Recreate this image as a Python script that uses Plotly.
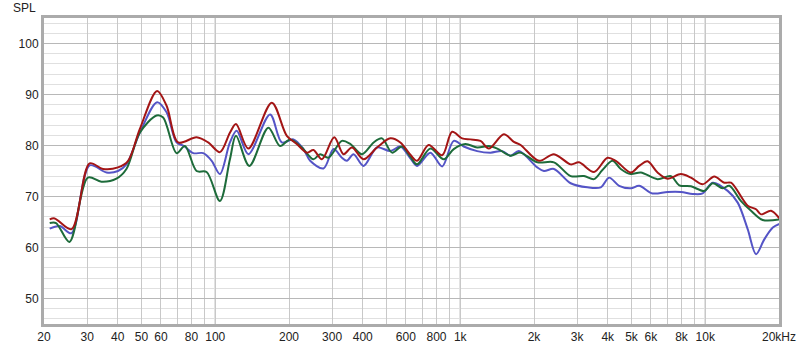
import math
import plotly.graph_objects as go

# ---- data ----
red_f = [21.1, 22.1, 25.9, 30.7, 34.8, 40.1, 44.1, 49.2, 57.9, 63.3, 70.6, 83.9, 93.6, 104.5,
         114.8, 121.5, 136.5, 170.1, 195.9, 215.2, 236.5, 251.7, 272.5, 306, 333.8, 361.3,
         403.1, 457.3, 518.4, 569.6, 625.6, 666.4, 743, 843.4, 926.6, 1017.6, 1100.8, 1209.5,
         1307.6, 1506.6, 1655.4, 1763.3, 2094, 2412, 2823, 3053, 3516, 3990, 4314, 4968, 5373,
         5814, 6387, 7020, 7957, 8743, 9761, 10886, 11960, 12740, 14900, 16120, 16890, 18570, 20070]
red_db = [65.5, 65.7, 63.6, 76.5, 75.4, 75.7, 77.0, 83.2, 90.7, 87.8, 80.6, 81.6, 80.6, 78.7,
          82.5, 84.2, 79.4, 88.4, 81.9, 80.3, 78.6, 79.1, 77.3, 81.6, 78.3, 79.6,
          77.3, 79.6, 81.4, 80.6, 78.2, 77.0, 80.1, 78.1, 82.7, 81.4, 81.2, 80.9,
          79.4, 82.2, 80.7, 80.1, 77.0, 78.3, 76.3, 76.7, 74.8, 77.6, 77.0, 74.7, 76.0,
          76.9, 74.7, 73.5, 74.4, 73.7, 72.4, 73.9, 72.7, 72.7, 68.2, 67.5, 66.5, 67.2, 65.7]

blue_f = [21.1, 23.2, 25.9, 30.7, 36.0, 40.1, 43.4, 49.2, 57.9, 63.3, 69.5, 74.5, 81.3, 89.3,
          96.7, 104.5, 114.8, 122.3, 136.5, 167.4, 186.9, 208.4, 229.1, 244.0, 276.6, 304.0,
          328.8, 344.6, 366.8, 403.1, 457.3, 518.4, 569.6, 625.6, 666.4, 755.1, 843.4, 940.7,
          1033.2, 1172.5, 1328.8, 1483.9, 1604.8, 1735.1, 2063, 2195, 2412, 2823, 3304, 3745,
          4050, 4450, 4968, 5373, 6093, 7020, 7957, 8884, 9761, 10722, 12350, 13570, 14900,
          16120, 17420, 18870, 20070]
blue_db = [63.7, 64.2, 62.8, 76.1, 74.7, 75.0, 76.3, 82.5, 88.5, 86.5, 80.6, 79.9, 78.5, 78.5,
           77.0, 74.4, 80.6, 82.9, 78.3, 86.1, 80.6, 81.2, 79.3, 77.0, 75.5, 79.3,
           77.6, 77.0, 78.3, 76.0, 79.6, 78.9, 79.8, 77.5, 76.0, 78.6, 75.9, 80.9,
           79.8, 78.9, 78.6, 78.9, 78.0, 78.9, 75.7, 75.0, 75.4, 72.6, 71.8, 71.8,
           73.7, 72.1, 71.6, 72.1, 70.6, 70.9, 70.9, 70.5, 70.6, 72.7, 71.1, 68.8, 63.6,
           58.7, 61.6, 63.9, 64.6]

green_f = [21.1, 22.4, 25.4, 30.2, 34.3, 39.5, 43.4, 49.2, 57.6, 61.3, 69.5, 75.2, 83.9, 92.2,
           104.5, 114.8, 121.5, 137.8, 164.7, 183.9, 202.1, 225.6, 251.7, 268.1, 289.9, 328.8,
           355.5, 397.1, 442.9, 479.4, 526.8, 578.9, 625.6, 666.4, 755.1, 856.1, 940.7, 1050,
           1172.5, 1307.6, 1415.8, 1604.8, 1763.3, 2063, 2412, 2823, 3200, 3516, 3805, 4182,
           4520, 4968, 5460, 6387, 7242, 7830, 8743, 9910, 10722, 11780, 12540, 14000, 15380,
           17160, 20070]
green_db = [64.8, 64.8, 61.1, 73.7, 72.9, 73.5, 75.4, 82.5, 85.9, 85.5, 78.5, 79.9, 75.0, 74.8,
            69.1, 77.3, 81.9, 76.0, 83.5, 79.9, 81.2, 79.6, 77.3, 78.3, 77.6, 80.9,
            80.3, 78.3, 80.6, 81.4, 78.6, 79.8, 77.8, 76.3, 79.4, 77.3, 79.3, 80.3,
            79.6, 79.9, 79.4, 78.0, 78.6, 76.7, 76.7, 74.0, 74.0, 73.4, 75.2, 77.0,
            75.4, 74.4, 74.7, 73.4, 74.0, 72.2, 72.0, 71.1, 72.6, 71.6, 72.1, 69.1, 67.2,
            65.4, 65.5]

x_tickvals = [20, 30, 40, 50, 60, 70, 80, 90, 100, 200, 300, 400, 500, 600, 700, 800, 900,
              1000, 2000, 3000, 4000, 5000, 6000, 7000, 8000, 9000, 10000, 20000]
x_ticktext = ["20", "30", "40", "50", "60", "", "80", "", "100", "200", "300", "400", "", "600",
              "", "800", "", "1k", "2k", "3k", "4k", "5k", "6k", "", "8k", "", "10k", "20kHz"]
decades = [100, 1000, 10000]
y_ticks = [50, 60, 70, 80, 90, 100]

fig = go.Figure()
for f, v, c in [(blue_f, blue_db, "#5454c6"), (green_f, green_db, "#1d6b3a"),
                (red_f, red_db, "#a31515")]:
    fig.add_trace(go.Scatter(x=f, y=v, mode="lines",
                             line=dict(color=c, width=2, shape="spline", smoothing=0.9),
                             showlegend=False, hoverinfo="skip"))

xr = [math.log10(20), math.log10(20000)]
shapes = [dict(type="line", xref="x", yref="paper", x0=d, x1=d, y0=0, y1=1,
               line=dict(color="#8a8a8a", width=1), layer="below") for d in decades]

fig.update_layout(
    width=800, height=348,
    margin=dict(l=44, r=21, t=18, b=24, autoexpand=False),
    paper_bgcolor="white", plot_bgcolor="white",
    font=dict(family="Liberation Sans, Arial, sans-serif", size=12, color="#222222"),
    xaxis=dict(type="log", range=xr, tickvals=x_tickvals, ticktext=x_ticktext,
               showgrid=True, gridcolor="#c8c8c8", gridwidth=1, ticks="",
               showline=True, linecolor="#ababab", linewidth=3, mirror=True,
               zeroline=False, automargin=False,
               tickfont=dict(size=12, color="#222222")),
    yaxis=dict(range=[45, 105], tickvals=y_ticks, showgrid=True, gridcolor="#b8b8b8",
               gridwidth=1, ticks="", zeroline=False, automargin=False,
               minor=dict(dtick=2, tick0=0, showgrid=True, gridcolor="#e0e0e0", gridwidth=1),
               showline=True, linecolor="#ababab", linewidth=3, mirror=True,
               tickfont=dict(size=12, color="#222222")),
    shapes=shapes,
    annotations=[dict(text="SPL", xref="paper", yref="paper", x=-0.008, y=1.033,
                      xanchor="right", yanchor="middle", showarrow=False,
                      font=dict(size=12, color="#222222"))],
)
fig.write_html("out.html")
